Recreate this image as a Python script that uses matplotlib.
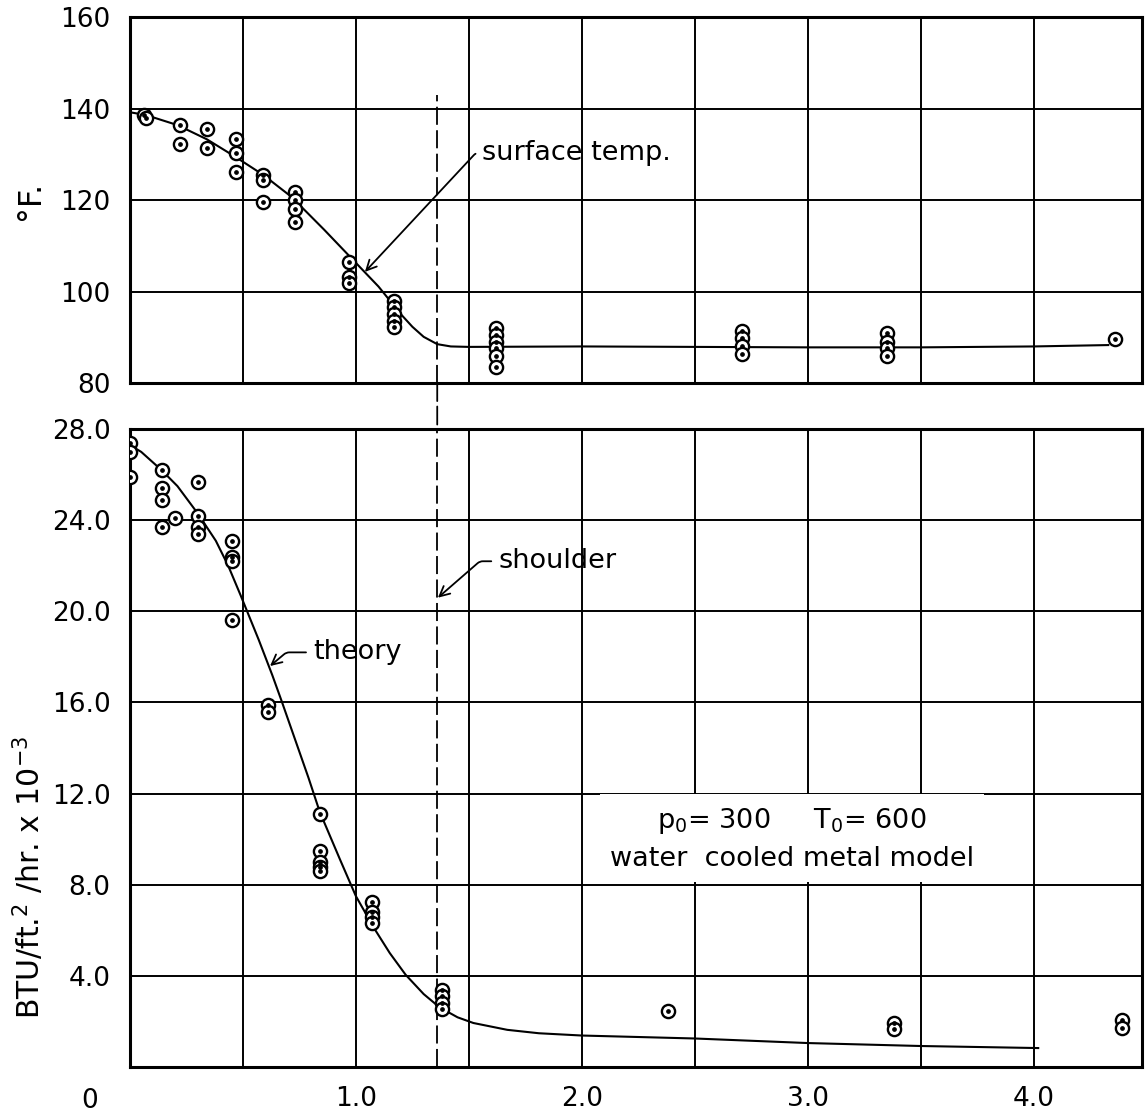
import numpy as np
import matplotlib
matplotlib.use("Agg")
import matplotlib.pyplot as plt
from matplotlib.patches import ConnectionPatch

# surface temperature (top panel), deg F
temp_x = [0.06, 0.07, 0.22, 0.22, 0.34, 0.34, 0.47, 0.47, 0.47,
          0.59, 0.59, 0.59, 0.73, 0.73, 0.73, 0.73,
          0.97, 0.97, 0.97,
          1.17, 1.17, 1.17, 1.17, 1.17,
          1.62, 1.62, 1.62, 1.62, 1.62, 1.62,
          2.71, 2.71, 2.71, 2.71,
          3.35, 3.35, 3.35, 3.35,
          4.36]
temp_y = [138.6, 137.9, 136.4, 132.2, 135.5, 131.4, 133.3, 130.3, 126.1,
          125.5, 124.4, 119.6, 121.8, 120.0, 118.0, 115.2,
          106.4, 103.2, 101.9,
          98.0, 96.6, 95.1, 93.6, 92.2,
          92.0, 90.5, 89.0, 87.6, 85.9, 83.5,
          91.4, 89.8, 88.1, 86.3,
          91.0, 89.0, 87.6, 85.9,
          89.6]
temp_curve_x = [0.0, 0.07, 0.21, 0.34, 0.465, 0.59, 0.715, 0.86, 0.98, 1.10,
                1.20, 1.25, 1.30, 1.36, 1.42, 1.5, 2.0, 2.5, 3.0, 3.5, 4.0, 4.33]
temp_curve_y = [139.2, 138.6, 136.4, 133.3, 129.5, 125.5, 120.7, 113.5, 107.3,
                101.1, 95.0, 92.3, 90.1, 88.5, 88.0, 87.9, 88.0, 87.9, 87.8,
                87.8, 88.0, 88.3]

# heat transfer (bottom panel), BTU/ft2/hr x 10^-3
heat_x = [0.0, 0.0, 0.0, 0.14, 0.14, 0.14, 0.14, 0.2,
          0.30, 0.30, 0.30, 0.30,
          0.45, 0.45, 0.45, 0.45,
          0.61, 0.61,
          0.84, 0.84, 0.84, 0.84, 0.84,
          1.07, 1.07, 1.07, 1.07,
          1.38, 1.38, 1.38, 1.38,
          2.38,
          3.38, 3.38,
          4.39, 4.39]
heat_y = [27.4, 27.0, 25.9, 26.2, 25.4, 24.9, 23.7, 24.1,
          25.7, 24.2, 23.7, 23.4,
          23.1, 22.4, 22.2, 19.6,
          15.9, 15.6,
          11.1, 9.5, 9.0, 8.8, 8.6,
          7.25, 6.8, 6.6, 6.3,
          3.4, 3.1, 2.8, 2.55,
          2.45,
          1.95, 1.65,
          2.05, 1.7]
theory_x = [0.0, 0.05, 0.14, 0.21, 0.30, 0.38, 0.435, 0.49, 0.57, 0.63, 0.67,
            0.73, 0.79, 0.84, 0.93, 1.0, 1.08, 1.15, 1.22, 1.30, 1.37, 1.45,
            1.52, 1.67, 1.81, 2.0, 2.5, 3.0, 3.5, 4.02]
theory_y = [27.3, 27.0, 26.2, 25.5, 24.3, 23.1, 22.0, 20.7, 18.75, 17.2, 16.1,
            14.4, 12.7, 11.2, 9.1, 7.5, 6.1, 5.0, 4.05, 3.2, 2.62, 2.18,
            1.93, 1.63, 1.48, 1.38, 1.25, 1.05, 0.92, 0.83]

shoulder_x = 1.36
grid_x = np.arange(0, 4.5, 0.5)
x_ticklabels = ["", "", "1.0", "", "2.0", "", "3.0", "", "4.0"]
top_yticks = [80, 100, 120, 140, 160]
bot_yticks = [4, 8, 12, 16, 20, 24, 28]

plt.rcParams["font.family"] = "DejaVu Sans"
plt.rcParams["font.size"] = 19

fig = plt.figure(figsize=(11.45, 11.19), dpi=100)
ax1 = fig.add_axes([0.1135, 0.6577, 0.884, 0.327])
ax2 = fig.add_axes([0.1135, 0.0465, 0.884, 0.570])

arrow = dict(arrowstyle="->", color="black", lw=1.3, mutation_scale=18,
             shrinkA=3, shrinkB=0, relpos=(0, 0.5))


def style(ax):
    for s in ax.spines.values():
        s.set_linewidth(2.2)
    ax.grid(True, color="black", linewidth=1.4)
    ax.set_axisbelow(True)
    ax.tick_params(length=0, labelsize=19, pad=14)
    ax.set_xlim(0, 4.48)
    ax.set_xticks(grid_x)


def dots(ax, x, y):
    ax.plot(x, y, "o", ms=9.5, mfc="white", mec="black", mew=1.7, zorder=4)
    ax.plot(x, y, "o", ms=2.4, color="black", zorder=5)


# top panel
style(ax1)
ax1.set_ylim(80, 160)
ax1.set_yticks(top_yticks)
ax1.set_yticklabels([str(v) for v in top_yticks])
ax1.set_xticklabels([])
ax1.plot(temp_curve_x, temp_curve_y, color="black", lw=1.5, zorder=3)
dots(ax1, temp_x, temp_y)
ax1.plot([shoulder_x, shoulder_x], [80, 143], color="black", lw=1.3,
         ls=(0, (10, 3)), zorder=3)
ax1.set_ylabel("°F.", fontsize=23)
ax1.yaxis.set_label_coords(-0.083, 0.5)
ax1.annotate("surface temp.", xy=(1.04, 104.3), xytext=(1.56, 130.3),
             ha="left", va="center", fontsize=19.5,
             arrowprops=dict(arrow, connectionstyle="angle,angleA=0,angleB=47,rad=3"))

# bottom panel
style(ax2)
ax2.set_ylim(0, 28)
ax2.set_yticks(bot_yticks)
ax2.set_yticklabels([f"{v:.1f}" for v in bot_yticks])
ax2.set_xticklabels(x_ticklabels)
ax2.text(-0.18, -0.033, "0", transform=ax2.get_xaxis_transform(),
         ha="center", va="top", fontsize=19, clip_on=False)
ax2.plot(theory_x, theory_y, color="black", lw=1.5, zorder=3)
dots(ax2, heat_x, heat_y)
ax2.axvline(shoulder_x, color="black", lw=1.3, ls=(0, (10, 3)), zorder=3)
ax2.set_ylabel("BTU/ft.$^2$ /hr. x 10$^{-3}$", fontsize=21.5)
ax2.yaxis.set_label_coords(-0.083, 0.298)

ax2.annotate("theory", xy=(0.62, 17.6), xytext=(0.81, 18.2),
             ha="left", va="center", fontsize=19.5,
             arrowprops=dict(arrow, connectionstyle="angle,angleA=0,angleB=40,rad=3"))
ax2.annotate("shoulder", xy=(1.363, 20.6), xytext=(1.63, 22.2),
             ha="left", va="center", fontsize=19.5,
             arrowprops=dict(arrow, connectionstyle="angle,angleA=0,angleB=41,rad=3"))

ax2.text(2.93, 10.0, "p$_0$= 300     T$_0$= 600\nwater  cooled metal model",
         ha="center", va="center", fontsize=19.5, linespacing=1.5, zorder=6,
         bbox=dict(facecolor="white", edgecolor="none", pad=7))

# dashed shoulder line crosses the gap between the panels
con = ConnectionPatch(xyA=(shoulder_x, 80), coordsA=ax1.transData,
                      xyB=(shoulder_x, 28), coordsB=ax2.transData,
                      color="black", lw=1.3, ls=(0, (10, 3)))
fig.add_artist(con)

fig.savefig("out.png", dpi=100)
